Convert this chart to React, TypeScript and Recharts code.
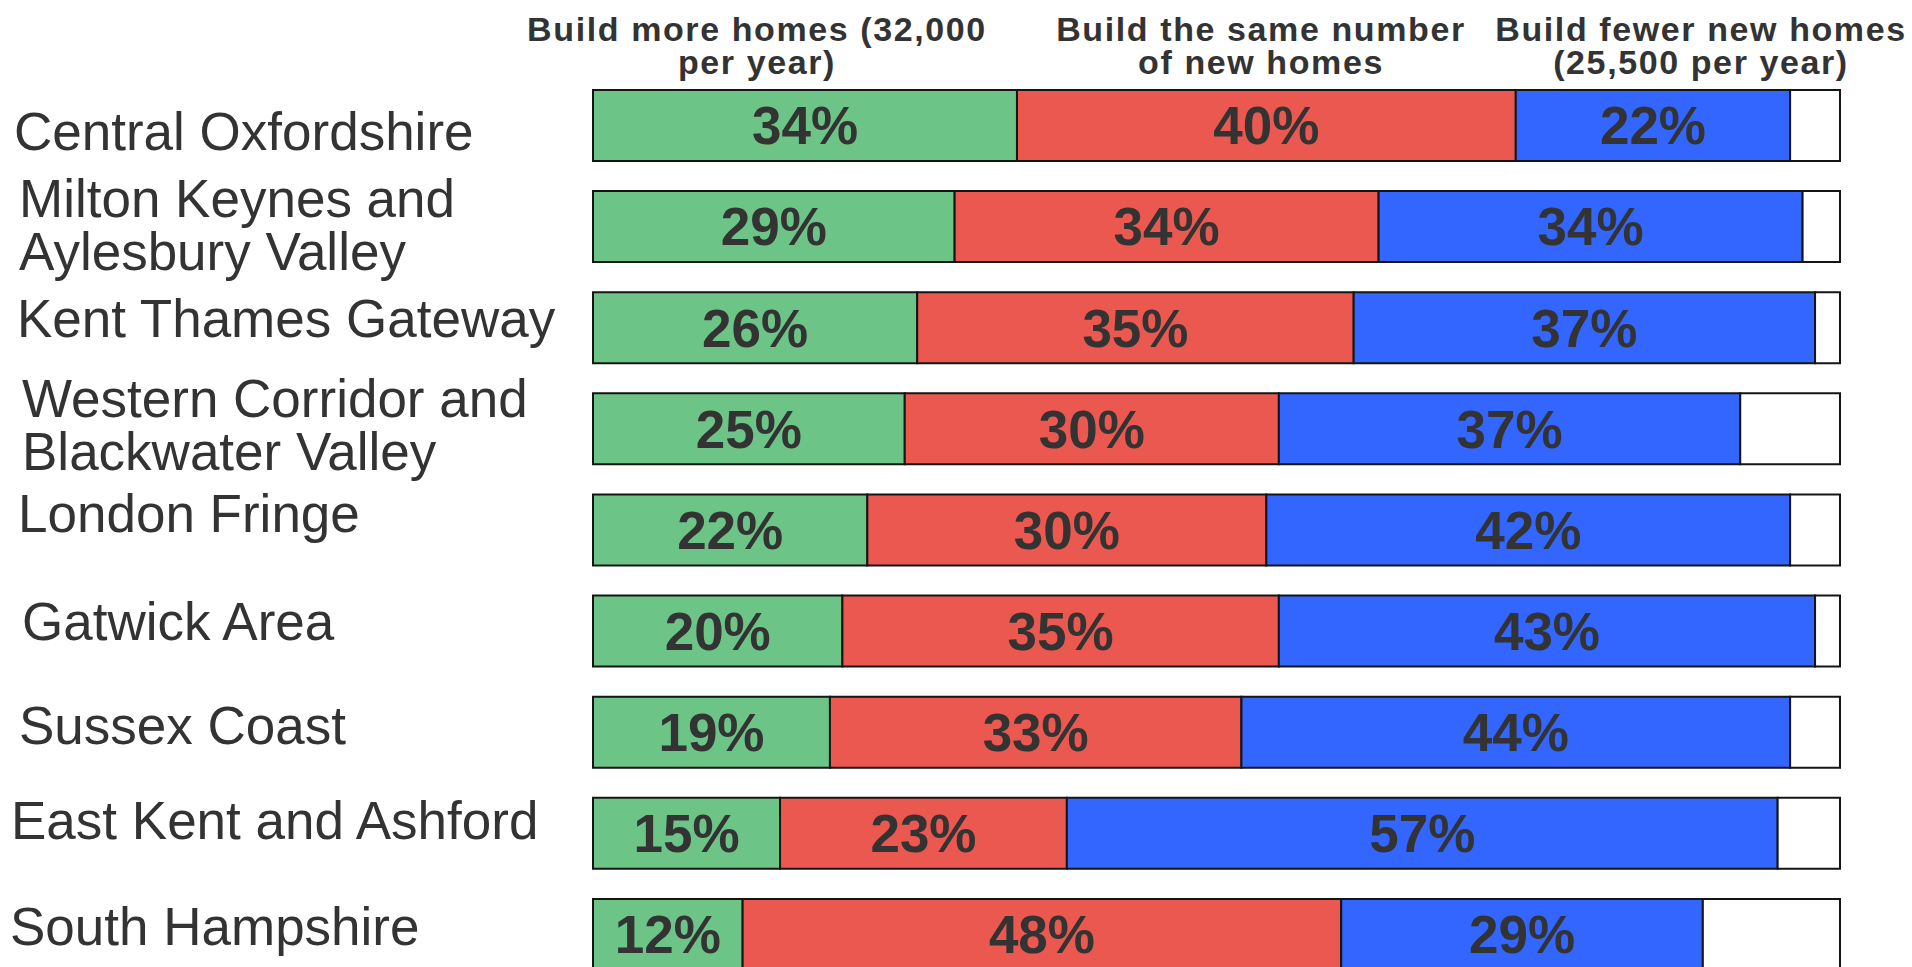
import { Bar, BarChart, LabelList, XAxis, YAxis } from "recharts";

// Survey: preferred housebuilding level, by sub-region (share of respondents, %)
const regions = [
  "Central Oxfordshire",
  "Milton Keynes and\nAylesbury Valley",
  "Kent Thames Gateway",
  "Western Corridor and\nBlackwater Valley",
  "London Fringe",
  "Gatwick Area",
  "Sussex Coast",
  "East Kent and Ashford",
  "South Hampshire",
];

// bar lengths as drawn
const moreHomes = [34, 29, 26, 25, 22, 20, 19, 15, 12];
const sameHomes = [40, 34, 35, 30, 32, 35, 33, 23, 48];
const fewerHomes = [22, 34, 37, 37, 42, 43, 44, 57, 29];
const otherAnswers = [4, 3, 2, 8, 4, 2, 4, 5, 11];

// the printed figure for "same" — London Fringe's label doesn't match its bar
const samePrinted = [40, 34, 35, 30, 30, 35, 33, 23, 48];

const seriesHeaders = [
  ["Build more homes (32,000", "per year)"],
  ["Build the same number", "of new homes"],
  ["Build fewer new homes", "(25,500 per year)"],
];

const COLORS = {
  more: "#6cc587",
  same: "#ea584f",
  fewer: "#3366ff",
  other: "#ffffff",
  edge: "#151515",
  ink: "#333333",
};

const FONT = '"Liberation Sans", Arial, Helvetica, sans-serif';

// the region names sit in loose text boxes, not on a neat grid
const LABEL_POS = [
  { x: 14, dy: 24 },
  { x: 19, dy: -10 },
  { x: 17, dy: 9 },
  { x: 22, dy: -12 },
  { x: 18, dy: 2 },
  { x: 22, dy: 9 },
  { x: 19, dy: 12 },
  { x: 11, dy: 6 },
  { x: 10, dy: 11 },
];

const HEADER_X = [757, 1261, 1701];

const data = regions.map((name, i) => ({
  name,
  more: moreHomes[i],
  same: sameHomes[i],
  sameLabel: samePrinted[i],
  fewer: fewerHomes[i],
  other: otherAnswers[i],
}));

function RegionTick(props: any) {
  const { y, payload, index } = props;
  const pos = LABEL_POS[index] ?? { x: 14, dy: 10 };
  const lines = String(payload.value).split("\n");
  return (
    <text
      x={pos.x}
      y={y + pos.dy}
      fill={COLORS.ink}
      fontFamily={FONT}
      fontSize={53}
      textAnchor="start"
    >
      {lines.map((line, k) => (
        <tspan key={k} x={pos.x} dy={k === 0 ? 0 : 53.5}>
          {line}
        </tspan>
      ))}
    </text>
  );
}

const pct = (v: any) => `${v}%`;

const labelStyle = {
  fill: COLORS.ink,
  fontFamily: FONT,
  fontSize: 53,
  fontWeight: 700,
};

export default function App() {
  return (
    <div
      style={{
        position: "fixed",
        left: 0,
        top: 0,
        width: 1912,
        height: 967,
        overflow: "hidden",
        background: "#fff",
      }}
    >
      <BarChart
        width={1912}
        height={985}
        data={data}
        layout="vertical"
        margin={{ top: 75, right: 72, bottom: 0, left: 0 }}
      >
        <XAxis type="number" domain={[0, 100]} hide />
        <YAxis
          type="category"
          dataKey="name"
          width={593}
          axisLine={false}
          tickLine={false}
          tick={(p: any) => <RegionTick {...p} />}
          interval={0}
        />
        <Bar
          dataKey="more"
          stackId="a"
          barSize={71}
          fill={COLORS.more}
          stroke={COLORS.edge}
          strokeWidth={2}
          isAnimationActive={false}
        >
          <LabelList dataKey="more" position="center" formatter={pct} style={labelStyle} />
        </Bar>
        <Bar
          dataKey="same"
          stackId="a"
          barSize={71}
          fill={COLORS.same}
          stroke={COLORS.edge}
          strokeWidth={2}
          isAnimationActive={false}
        >
          <LabelList dataKey="sameLabel" position="center" formatter={pct} style={labelStyle} />
        </Bar>
        <Bar
          dataKey="fewer"
          stackId="a"
          barSize={71}
          fill={COLORS.fewer}
          stroke={COLORS.edge}
          strokeWidth={2}
          isAnimationActive={false}
        >
          <LabelList dataKey="fewer" position="center" formatter={pct} style={labelStyle} />
        </Bar>
        <Bar
          dataKey="other"
          stackId="a"
          barSize={71}
          fill={COLORS.other}
          stroke={COLORS.edge}
          strokeWidth={2}
          isAnimationActive={false}
        />
      </BarChart>
      <svg
        width={1912}
        height={90}
        style={{ position: "absolute", left: 0, top: 0, pointerEvents: "none" }}
      >
        {seriesHeaders.map((lines, i) => (
          <text
            key={i}
            x={HEADER_X[i]}
            y={41}
            textAnchor="middle"
            fill={COLORS.ink}
            fontFamily={FONT}
            fontSize={34}
            fontWeight={700}
            letterSpacing={1.6}
          >
            {lines.map((line, k) => (
              <tspan key={k} x={HEADER_X[i]} dy={k === 0 ? 0 : 33}>
                {line}
              </tspan>
            ))}
          </text>
        ))}
      </svg>
    </div>
  );
}
